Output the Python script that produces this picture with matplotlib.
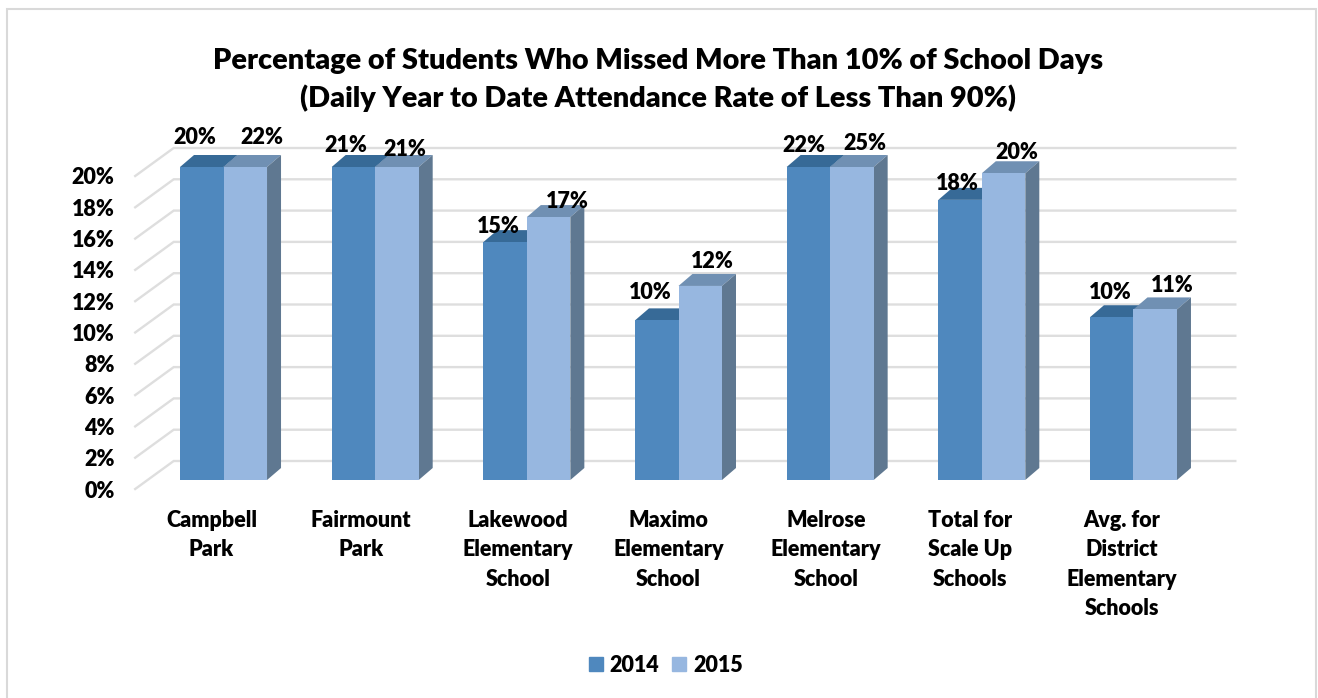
import matplotlib
matplotlib.use("Agg")
import matplotlib.pyplot as plt
from matplotlib.patches import Patch, Polygon, Rectangle
from matplotlib.transforms import ScaledTranslation

plt.rcParams['font.family'] = ['Lato', 'DejaVu Sans']

W, H, DPI = 1318, 698, 100

schools = ['Campbell\nPark', 'Fairmount\nPark', 'Lakewood\nElementary\nSchool',
           'Maximo\nElementary\nSchool', 'Melrose\nElementary\nSchool',
           'Total for\nScale Up\nSchools', 'Avg. for\nDistrict\nElementary\nSchools']
rate_2014 = [20, 21, 15.2, 10.2, 22, 17.9, 10.4]
rate_2015 = [22, 21, 16.8, 12.4, 25, 19.6, 10.9]
y_ticks = [0, 2, 4, 6, 8, 10, 12, 14, 16, 18, 20]
y_max = 20

# hand placed labels in the original, pixels from the top centre of each bar
nudge_2014 = [(-7, -29), (-8, -21), (-7, -16), (-6, -28), (-5, -21), (-3, -16), (-1, -25)]
nudge_2015 = [(17, -29), (8, -17), (19, -16), (12, -24), (13, -23), (13, -21), (17, -24)]
xlabel_shift = [-12, -14, -9, -10, -4, -12, -12]

BLUE, BLUE_TOP, BLUE_SIDE = '#4F88BE', '#376A97', '#3F6C98'
LIGHT, LIGHT_TOP, LIGHT_SIDE = '#97B7E0', '#7090B3', '#5F7891'
GRID = '#DEDEDE'
LABEL_SIZE = 15.5
WEIGHT = 'heavy'

fig = plt.figure(figsize=(W / DPI, H / DPI), dpi=DPI, facecolor='white')
# frame runs off the bottom of the picture
fig.patches.append(Rectangle((7 / W, 1 - 720 / H), 1309 / W, 711 / H, transform=fig.transFigure,
                             fill=False, edgecolor='#D9D9D9', linewidth=1.5))

# axes is the plane the bar fronts stand on
left, right, base, top = 147.7, 1209.3, 480, 167
ax = fig.add_axes([left / W, 1 - base / H, (right - left) / W, (base - top) / H])
ax.set_xlim(-0.5, 6.5)
ax.set_ylim(0, y_max)
ax.patch.set_visible(False)
for s in ax.spines.values():
    s.set_visible(False)

px_x = 7 / (right - left)
px_y = y_max / (base - top)


def shift(x, y, dx, dy):
    return x + dx * px_x, y - dy * px_y


# back wall lines and the slanted left wall
for v in y_ticks:
    x0, y0 = shift(-0.5, v, -12.5, 9)
    x1, y1 = shift(-0.5, v, 26, -19)
    x2, y2 = shift(6.5, v, 26, -19)
    ax.plot([x0, x1, x2], [y0, y1, y2], color=GRID, lw=1.7, clip_on=False, zorder=1,
            solid_joinstyle='miter')

bar_w = 43.5 * px_x
depth = (14, -12)


def draw_bars(values, offset, front, top_c, side_c, nudges, z):
    for i, val in enumerate(values):
        h = min(val, y_max)
        x = i + offset
        ax.bar(x, h, width=bar_w, color=front, align='edge', zorder=z + 1, clip_on=False)
        a = (x, h)
        b = (x + bar_w, h)
        c = shift(*b, *depth)
        d = shift(*a, *depth)
        e = (x + bar_w, 0)
        f = shift(*e, *depth)
        ax.add_patch(Polygon([a, b, c, d], color=top_c, lw=0, zorder=z, clip_on=False))
        ax.add_patch(Polygon([b, c, f, e], color=side_c, lw=0, zorder=z, clip_on=False))
        lx, ly = shift(x + bar_w / 2, h, *nudges[i])
        ax.text(lx, ly, f'{val:.0f}%', ha='center', va='center', fontsize=LABEL_SIZE, weight=WEIGHT,
                color='black', clip_on=False, zorder=10)


draw_bars(rate_2014, -bar_w, BLUE, BLUE_TOP, BLUE_SIDE, nudge_2014, 3)
draw_bars(rate_2015, 0, LIGHT, LIGHT_TOP, LIGHT_SIDE, nudge_2015, 5)

ax.set_yticks(y_ticks)
ax.set_yticklabels([f'{v}%' for v in y_ticks], fontsize=LABEL_SIZE, weight=WEIGHT, color='black')
ax.set_xticks(range(len(schools)))
ax.set_xticklabels(schools, fontsize=LABEL_SIZE, weight=WEIGHT, color='black', linespacing=1.5, va='top')
ax.tick_params(length=0)
ax.tick_params(axis='y', pad=0)

for lab in ax.get_yticklabels():
    lab.set_transform(lab.get_transform() + ScaledTranslation(-33 / DPI, -9 / DPI, fig.dpi_scale_trans))
for lab, sh in zip(ax.get_xticklabels(), xlabel_shift):
    lab.set_transform(lab.get_transform() + ScaledTranslation(sh / DPI, -25 / DPI, fig.dpi_scale_trans))

fig.text(658 / W, 1 - 80 / H,
         'Percentage of Students Who Missed More Than 10% of School Days\n'
         '(Daily Year to Date Attendance Rate of Less Than 90%)',
         ha='center', va='center', fontsize=20.8, weight=WEIGHT, color='black', linespacing=1.48)

handles = [Patch(color=BLUE, label='2014'), Patch(color=LIGHT, label='2015')]
fig.legend(handles=handles, loc='center', bbox_to_anchor=(666 / W, 1 - 665 / H), ncol=2, frameon=False,
           prop={'size': LABEL_SIZE, 'weight': WEIGHT}, handlelength=0.65, handleheight=0.65,
           handletextpad=0.3, columnspacing=0.6)

fig.savefig('out.png', dpi=DPI)
